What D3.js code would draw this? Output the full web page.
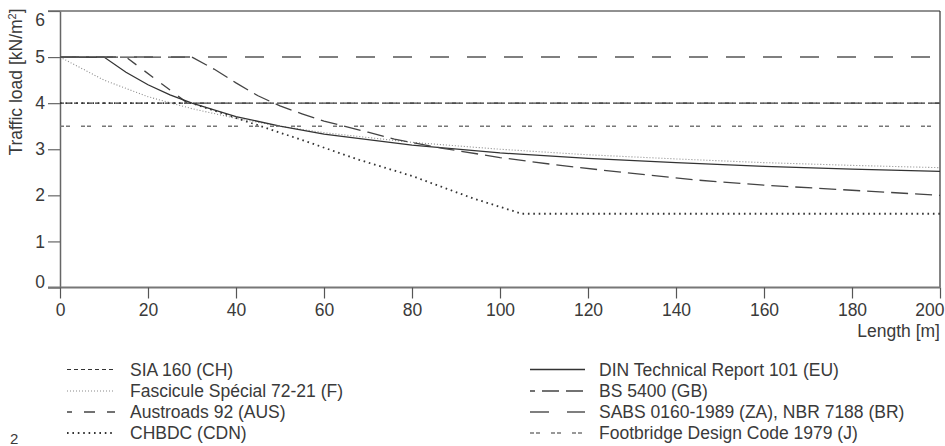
<!DOCTYPE html>
<html>
<head>
<meta charset="utf-8">
<script src="https://cdn.jsdelivr.net/npm/d3@7"></script>
<style>
  html, body { margin: 0; padding: 0; background: #fff; }
  svg { display: block; font-family: "Liberation Sans", Arial, sans-serif; }
</style>
</head>
<body>
<svg id="chart" width="945" height="446"></svg>
<script>
// Traffic load on footbridges vs. loaded length, several national codes

const lengthTicks = [0, 20, 40, 60, 80, 100, 120, 140, 160, 180, 200]
const loadTicks = [0, 1, 2, 3, 4, 5, 6]

// [length m, load kN/m2]
const siaPoints = [[0, 4], [200, 4]]
const fasciculePoints = [[0, 5.0], [10, 4.5], [20, 4.14], [30, 3.88], [40, 3.67], [50, 3.5], [60, 3.36],
  [80, 3.15], [100, 3.0], [120, 2.88], [140, 2.79], [160, 2.71], [180, 2.65], [200, 2.6]]
const austroadsPoints = [[0, 5], [15, 5], [29, 4], [200, 4]]
const chbdcPoints = [[0, 4], [30, 4], [55, 3.2], [68, 2.77], [80, 2.42], [94, 1.93], [105, 1.6], [200, 1.6]]
const dinPoints = [[0, 5], [10, 5], [15, 4.67], [20, 4.4], [25, 4.18], [30, 4.0], [40, 3.71], [50, 3.5],
  [60, 3.33], [80, 3.09], [100, 2.92], [120, 2.8], [140, 2.71], [160, 2.63], [180, 2.57], [200, 2.52]]
const bsPoints = [[0, 5], [30, 5], [35, 4.74], [40, 4.44], [45, 4.16], [50, 3.94], [55, 3.77], [60, 3.61],
  [65, 3.49], [70, 3.37], [76, 3.22], [87, 3.02], [100, 2.82], [112, 2.67], [123, 2.55], [134, 2.44],
  [145, 2.33], [160, 2.22], [180, 2.11], [200, 2.0]]
const sabsPoints = [[0, 5], [200, 5]]
const japanPoints = [[0, 3.5], [200, 3.5]]

const seriesNames = [
  'SIA 160 (CH)', 'Fascicule Spécial 72-21 (F)', 'Austroads 92 (AUS)', 'CHBDC (CDN)',
  'DIN Technical Report 101 (EU)', 'BS 5400 (GB)', 'SABS 0160-1989 (ZA), NBR 7188 (BR)',
  'Footbridge Design Code 1979 (J)'
]

const series = [
  { name: seriesNames[0], points: siaPoints, dash: '4,3', color: '#333', width: 1.2 },
  { name: seriesNames[1], points: fasciculePoints, dash: '1,2', color: '#8a8a8a', width: 1.1 },
  { name: seriesNames[2], points: austroadsPoints, dash: '11,10', offset: 16, legendDash: '11,12', legendOffset: 6, color: '#444', width: 1.3 },
  { name: seriesNames[3], points: chbdcPoints, dash: '1.6,3.8', color: '#333', width: 1.8 },
  { name: seriesNames[4], points: dinPoints, dash: null, color: '#333', width: 1.3 },
  { name: seriesNames[5], points: bsPoints, dash: '17,7', offset: 12, legendOffset: 12, color: '#444', width: 1.3 },
  { name: seriesNames[6], points: sabsPoints, dash: '19,18', color: '#555', width: 1.5 },
  { name: seriesNames[7], points: japanPoints, dash: '4,2,4,11', color: '#777', width: 1.6 }
]

const svg = d3.select('#chart')
const textColor = '#3a3a3a'
const fontSize = 17.5

const x = d3.scaleLinear().domain([0, 200]).range([60, 940])
const y = d3.scaleLinear().domain([0, 6]).range([287.5, 11])

// Frame: top and right lines
svg.append('line')
  .attr('x1', 48).attr('x2', x(200))
  .attr('y1', y(6)).attr('y2', y(6))
  .attr('stroke', '#222').attr('stroke-width', 1)

svg.append('line')
  .attr('x1', x(200)).attr('x2', x(200))
  .attr('y1', y(6)).attr('y2', y(0))
  .attr('stroke', '#333').attr('stroke-width', 1.2)

// Y axis
const yAxis = svg.append('g')
  .attr('transform', `translate(${x(0)},0)`)
  .call(d3.axisLeft(y).tickValues(loadTicks).tickFormat(d3.format('d'))
    .tickSize(12).tickPadding(3).tickSizeOuter(0))

yAxis.select('.domain').attr('stroke', '#666').attr('stroke-width', 1.5)
yAxis.selectAll('.tick line').attr('stroke', '#666').attr('stroke-width', 1.2)
yAxis.selectAll('.tick text')
  .attr('fill', textColor)
  .attr('font-size', fontSize)
  .attr('font-family', '"Liberation Sans", Arial, sans-serif')
  .attr('dy', d => d === 6 ? '0.85em' : d === 0 ? '0em' : '0.32em')

// X axis
const xAxis = svg.append('g')
  .attr('transform', `translate(0,${y(0)})`)
  .call(d3.axisBottom(x).tickValues(lengthTicks).tickFormat(d3.format('d'))
    .tickSize(11).tickPadding(5).tickSizeOuter(0))

xAxis.select('.domain').attr('stroke', '#777').attr('stroke-width', 2)
  .attr('d', `M48,0H${x(200)}`)
xAxis.selectAll('.tick line').attr('stroke', '#555').attr('stroke-width', 1.2)
xAxis.selectAll('.tick text')
  .attr('fill', textColor)
  .attr('font-size', fontSize)
  .attr('font-family', '"Liberation Sans", Arial, sans-serif')
  .attr('text-anchor', d => d === 200 ? 'end' : 'middle')
  .attr('x', d => d === 200 ? 4 : 0)

// Axis titles
svg.append('text')
  .attr('x', x(200))
  .attr('y', 337)
  .attr('text-anchor', 'end')
  .attr('fill', textColor)
  .attr('font-size', fontSize)
  .text('Length [m]')

const yTitle = svg.append('text')
  .attr('transform', 'translate(22,82) rotate(-90)')
  .attr('text-anchor', 'middle')
  .attr('fill', textColor)
  .attr('font-size', fontSize)
yTitle.append('tspan').text('Traffic load [kN/m')
yTitle.append('tspan').attr('font-size', 11).attr('dy', -6).text('2')
yTitle.append('tspan').attr('dy', 6).text(']')

// Curves
const line = d3.line()
  .x(d => x(d[0]))
  .y(d => y(d[1]))

svg.append('g')
  .selectAll('path')
  .data(series)
  .join('path')
  .attr('d', d => line(d.points))
  .attr('fill', 'none')
  .attr('stroke', d => d.color)
  .attr('stroke-width', d => d.width)
  .attr('stroke-dasharray', d => d.dash)
  .attr('stroke-dashoffset', d => d.offset || 0)

// Legend, two columns of four rows
const rowY = [369.5, 391, 412, 433]
const legend = svg.append('g')
  .selectAll('g')
  .data(series)
  .join('g')
  .attr('transform', (d, i) => `translate(${i < 4 ? 67 : 530},${rowY[i % 4]})`)

legend.append('line')
  .attr('x1', 0)
  .attr('x2', (d, i) => i < 4 ? 48 : 55)
  .attr('y1', 0).attr('y2', 0)
  .attr('stroke', d => d.color)
  .attr('stroke-width', d => d.width)
  .attr('stroke-dasharray', d => d.legendDash || d.dash)
  .attr('stroke-dashoffset', d => d.legendOffset || 0)

legend.append('text')
  .attr('x', (d, i) => i < 4 ? 63 : 69)
  .attr('y', 6)
  .attr('fill', textColor)
  .attr('font-size', fontSize)
  .text(d => d.name)

// Page number in the corner
svg.append('text')
  .attr('x', 10)
  .attr('y', 444)
  .attr('fill', textColor)
  .attr('font-size', 15)
  .text('2')
</script>
</body>
</html>
